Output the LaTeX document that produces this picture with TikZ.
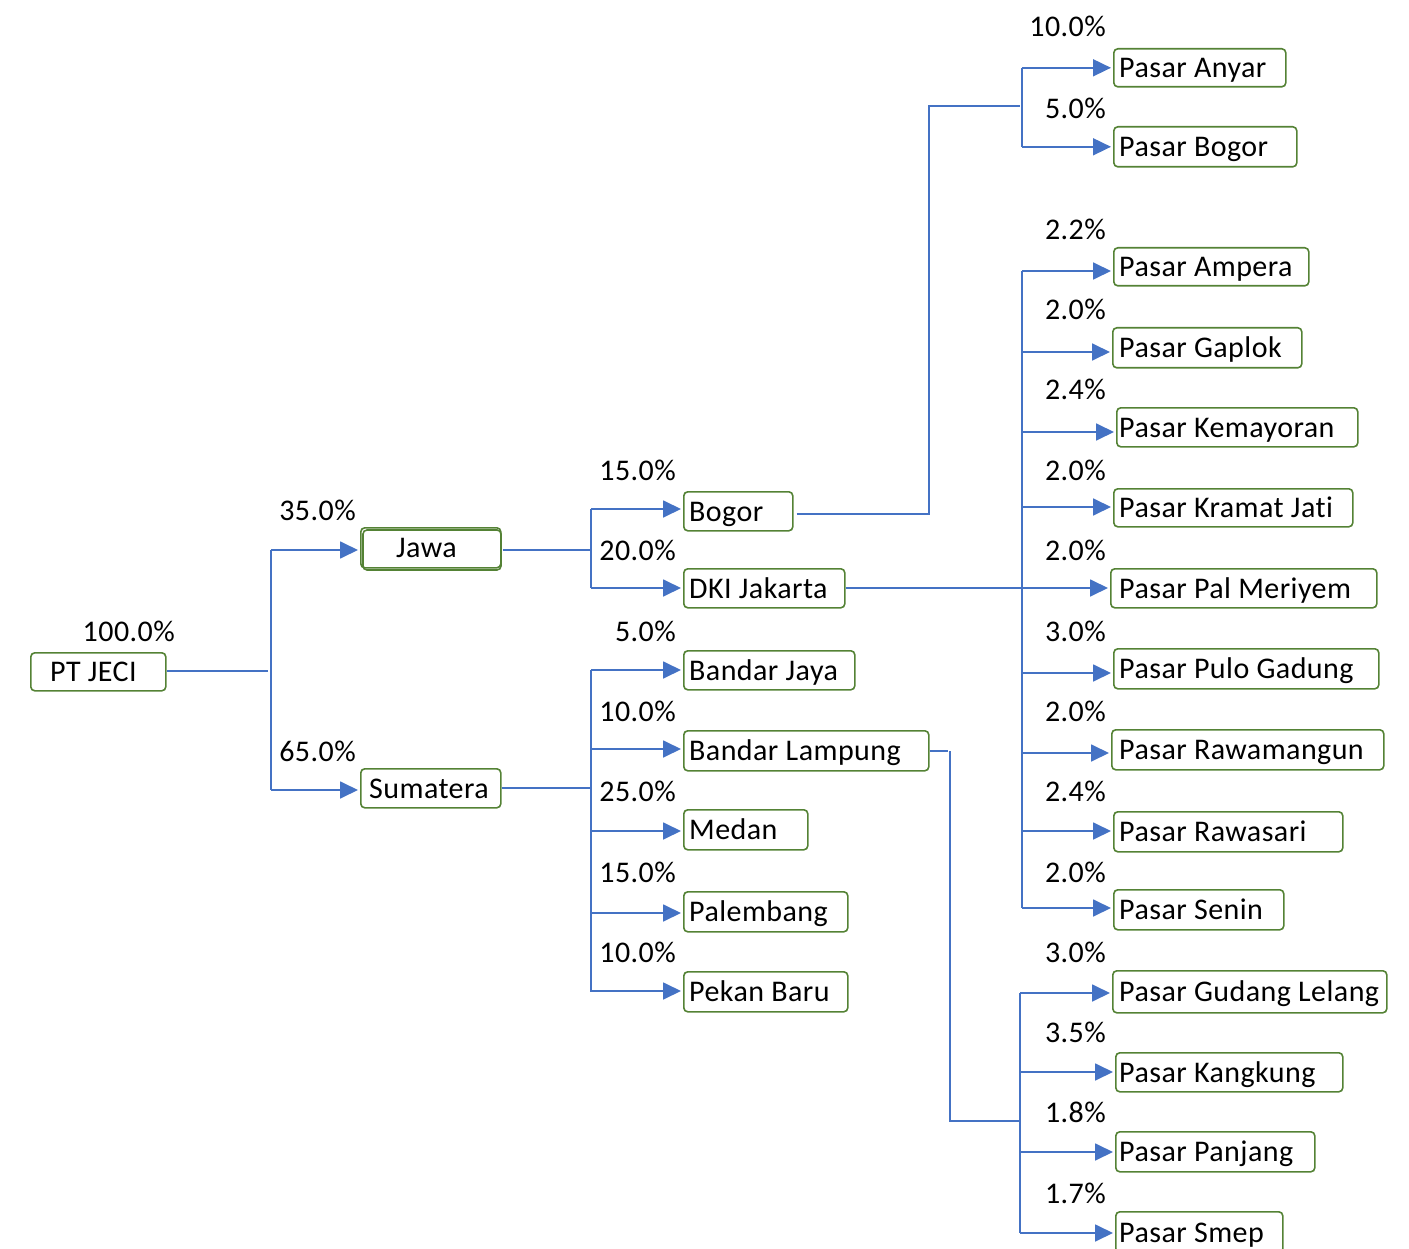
\documentclass[tikz,border=0pt]{standalone}
\usepackage{fontspec}
\setmainfont{Carlito}[LetterSpace=1.5, Ligatures=NoCommon, RawFeature=-liga]
\usetikzlibrary{arrows.meta}
\definecolor{lnblue}{HTML}{4472C4}
\definecolor{bxgreen}{HTML}{548235}
\tikzset{
  box/.style={draw=bxgreen, line width=1.6pt, rounded corners=4pt, inner sep=0pt},
  txt/.style={inner sep=0pt, font=\fontsize{30}{36}\selectfont, text=black},
  pct/.style={inner sep=0pt, anchor=east, font=\fontsize{30}{36}\selectfont, text=black},
  ln/.style={draw=lnblue, line width=1.8pt},
  arr/.style={ln, -{Triangle[length=18pt,width=17pt]}, shorten >=2pt}
}
% name, x1, y1, x2, y2, text offset, text
\newcommand\bx[7]{%
  \pgfmathsetmacro\bxw{#4-#2}\pgfmathsetmacro\bxh{#5-#3}%
  \node[box, minimum width=\bxw pt, minimum height=\bxh pt, anchor=north west] (#1) at (#2,#3) {};
  \node[txt, anchor=base west] (#1-t) at ([xshift=#6pt, yshift=-10pt]#1.west) {#7};}
\begin{document}
\begin{tikzpicture}[x=1pt,y=-1pt]
\useasboundingbox (0,0) rectangle (1409,1249);
% level 0-1
\bx{pt}{30}{652}{165}{690}{20}{PT JECI}
\bx{jawa}{360}{527}{500}{567}{36}{Jawa}
\draw[box] (363,530) rectangle (501,570);
\bx{sum}{360}{768}{500}{807}{9}{Sumatera}
% level 2
\bx{bogor}{683}{491}{792}{530}{6}{Bogor}
\bx{dki}{683}{568}{844}{607}{6}{DKI Jakarta}
\bx{bj}{683}{650}{854}{689}{6}{Bandar Jaya}
\bx{bl}{683}{730}{928}{770}{6}{Bandar Lampung}
\bx{medan}{683}{809}{807}{849}{6}{Medan}
\bx{pal}{683}{891}{847}{931}{6}{Palembang}
\bx{pb}{683}{971}{847}{1011}{6}{Pekan Baru}
% level 3
\bx{anyar}{1113}{48}{1285}{86}{6}{Pasar Anyar}
\bx{pbogor}{1113}{126}{1296}{166}{6}{Pasar Bogor}
\bx{ampera}{1113}{247}{1308}{285}{6}{Pasar Ampera}
\bx{gaplok}{1112}{327}{1301}{367}{7}{Pasar Gaplok}
\bx{kemay}{1116}{407}{1357}{446}{3}{Pasar Kemayoran}
\bx{kramat}{1113}{488}{1352}{526}{6}{Pasar Kramat Jati}
\bx{palm}{1110}{568}{1376}{607}{9}{Pasar Pal Meriyem}
\bx{pulo}{1113}{648}{1378}{688}{6}{Pasar Pulo Gadung}
\bx{rawam}{1111}{729}{1383}{769}{8}{Pasar Rawamangun}
\bx{rawas}{1113}{811}{1342}{851}{6}{Pasar Rawasari}
\bx{senin}{1113}{889}{1283}{929}{6}{Pasar Senin}
\bx{gudang}{1112}{970}{1386}{1012}{7}{Pasar Gudang Lelang}
\bx{kang}{1115}{1052}{1342}{1091}{4}{Pasar Kangkung}
\bx{panj}{1115}{1131}{1314}{1171}{4}{Pasar Panjang}
\bx{smep}{1115}{1211}{1282}{1252}{4}{Pasar Smep}
% percentages
\node[pct] (p0) at (175,631) {100.0\%};
\node[pct] (p1) at (356,510) {35.0\%};
\node[pct] (p2) at (356,751) {65.0\%};
\node[pct] (p3) at (676,470) {15.0\%};
\node[pct] (p4) at (676,550) {20.0\%};
\node[pct] (p5) at (676,631) {5.0\%};
\node[pct] (p6) at (676,711) {10.0\%};
\node[pct] (p7) at (676,791) {25.0\%};
\node[pct] (p8) at (676,872) {15.0\%};
\node[pct] (p9) at (676,952) {10.0\%};
\node[pct] (q1) at (1106,26) {10.0\%};
\node[pct] (q2) at (1106,108) {5.0\%};
\node[pct] (q3) at (1106,229) {2.2\%};
\node[pct] (q4) at (1106,309) {2.0\%};
\node[pct] (q5) at (1106,389) {2.4\%};
\node[pct] (q6) at (1106,470) {2.0\%};
\node[pct] (q7) at (1106,550) {2.0\%};
\node[pct] (q8) at (1106,631) {3.0\%};
\node[pct] (q9) at (1106,711) {2.0\%};
\node[pct] (q10) at (1106,791) {2.4\%};
\node[pct] (q11) at (1106,872) {2.0\%};
\node[pct] (q12) at (1106,952) {3.0\%};
\node[pct] (q13) at (1106,1032) {3.5\%};
\node[pct] (q14) at (1106,1112) {1.8\%};
\node[pct] (q15) at (1106,1193) {1.7\%};
% trunk coordinates
\coordinate (ta) at (268,671);
\coordinate (tb) at (591,550);
\coordinate (tc) at (591,788);
\coordinate (td) at (1022,106);
\coordinate (te) at (1022,588);
\coordinate (tf) at (1020,1121);
% PT JECI
\draw[ln] (pt.east |- ta) -- (ta);
\draw[ln] (271,550) -- (271,790);
\foreach \n/\y in {jawa/550,sum/790}{\path (271,\y) coordinate (tmp); \draw[arr] (tmp) -- (\n.west |- tmp);}
% Jawa
\draw[ln] ([xshift=1pt]jawa.east |- tb) -- (tb);
\draw[ln] (591,509) -- (591,588);
\foreach \n/\y in {bogor/509,dki/588}{\path (591,\y) coordinate (tmp); \draw[arr] (tmp) -- (\n.west |- tmp);}
% Sumatera
\draw[ln] (sum.east |- tc) -- (tc);
\draw[ln] (591,670) -- (591,992);
\foreach \n/\y in {bj/670,bl/749,medan/831,pal/913,pb/991}{\path (591,\y) coordinate (tmp); \draw[arr] (tmp) -- (\n.west |- tmp);}
% Bogor
\draw[ln] ([xshift=3pt]bogor.east |- 0,514) -| (929,106) -- (1020,106);
\draw[ln] (td |- anyar.west) -- (td |- pbogor.west);
\draw[arr] (td |- anyar.west) -- (anyar.west);
\draw[arr] (td |- pbogor.west) -- (pbogor.west);
% DKI
\draw[ln] (dki.east |- te) -- (te);
\draw[ln] (1022,271) -- (1022,908);
\foreach \n/\y in {ampera/271,gaplok/352,kemay/432,kramat/507,palm/588,pulo/673,rawam/753,rawas/831,senin/908}{\path (1022,\y) coordinate (tmp); \draw[arr] (tmp) -- (\n.west |- tmp);}
% Bandar Lampung
\draw[ln] (bl.east |- 0,751) -- (948,751);
\draw[ln] (950,751) -- (950,1121) -- (tf);
\draw[ln] (1020,993) -- (1020,1233);
\foreach \n/\y in {gudang/993,kang/1072,panj/1152,smep/1233}{\path (1020,\y) coordinate (tmp); \draw[arr] (tmp) -- (\n.west |- tmp);}
\end{tikzpicture}
\end{document}
